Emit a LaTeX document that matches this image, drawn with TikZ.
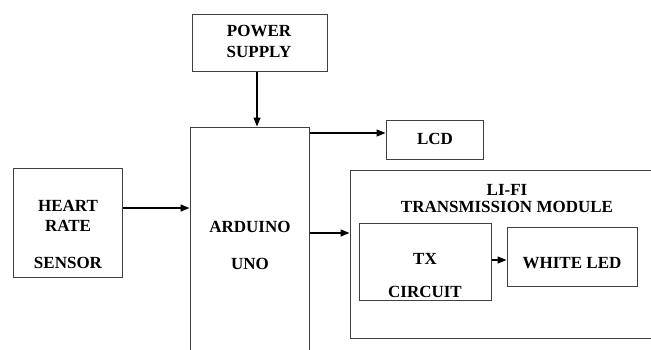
\documentclass[tikz,border=0pt]{standalone}
\usepackage{fontspec}
\setmainfont{Liberation Serif}
\usetikzlibrary{arrows.meta}
\begin{document}
\begin{tikzpicture}[x=1pt,y=-1pt,
 box/.style={draw=black!75, line width=1pt, rectangle, inner sep=0pt},
 lbl/.style={font=\fontsize{17}{18}\selectfont\bfseries, align=center, inner sep=0pt},
 arr/.style={-{Triangle[length=9pt,width=7pt]}, line width=1.4pt, black}]
\useasboundingbox (0,0) rectangle (651,349);
\clip (0,0) rectangle (651,349);
% boxes
\node[box, minimum width=135pt, minimum height=57pt] (ps) at (259.5,42.5) {};
\node[box, minimum width=119pt, minimum height=233pt] (ard) at (249.5,243.5) {};
\node[box, minimum width=109pt, minimum height=109pt] (hr) at (67.5,222.5) {};
\node[box, minimum width=97pt, minimum height=39pt] (lcd) at (434.5,139.5) {};
\node[box, minimum width=305pt, minimum height=168pt] (lifi) at (502.5,254) {};
\node[box, minimum width=132pt, minimum height=77pt] (tx) at (425,261.5) {};
\node[box, minimum width=130pt, minimum height=59pt] (led) at (572,256.5) {};
% texts
\node[lbl] (tps1) at (259,31) {POWER};
\node[lbl] (tps2) at (259,52) {SUPPLY};
\node[lbl] (tard1) at (250,227) {ARDUINO};
\node[lbl] (tard2) at (250,264) {UNO};
\node[lbl] (thr1) at (68,206) {HEART};
\node[lbl] (thr2) at (68,226) {RATE};
\node[lbl] (thr3) at (68,263) {SENSOR};
\node[lbl] (tlcd) at (435,138.5) {LCD};
\node[lbl] (tlifi1) at (507,190) {LI-FI};
\node[lbl] (tlifi2) at (507,207) {TRANSMISSION MODULE};
\node[lbl] (ttx1) at (425,259) {TX};
\node[lbl] (ttx2) at (425,292) {CIRCUIT};
\node[lbl] (tled) at (572,263) {WHITE LED};
% connectors
\draw[arr] (ps.south -| 257,0) -- (ard.north -| 257,0);
\draw[arr] (hr.east |- 0,208) -- (ard.west |- 0,208);
\draw[arr] (ard.east |- 0,133) -- (lcd.west |- 0,133);
\draw[arr] (ard.east |- 0,233) -- (lifi.west |- 0,233);
\draw[arr] (tx.east |- 0,260) -- (led.west |- 0,260);
\end{tikzpicture}
\end{document}
